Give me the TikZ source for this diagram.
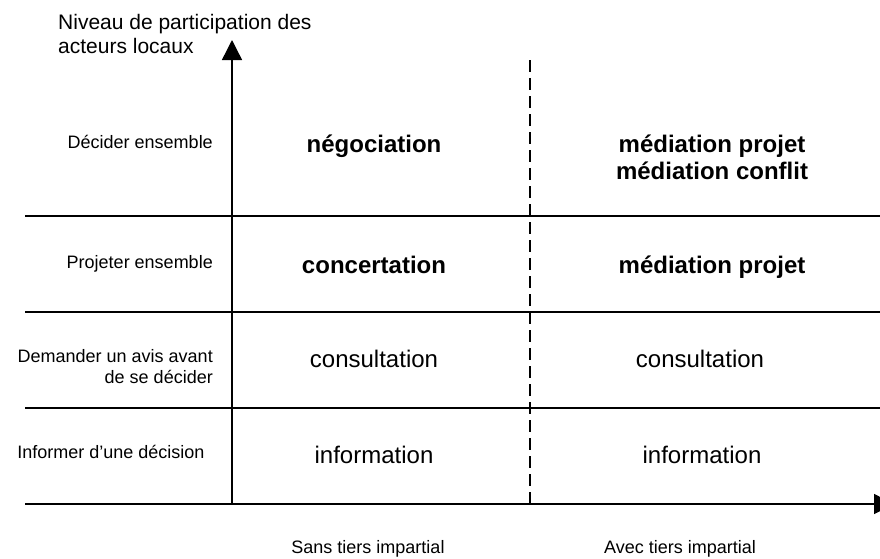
\documentclass[tikz,border=0pt]{standalone}
\usepackage{fontspec}
\setmainfont{Liberation Sans}
\usetikzlibrary{arrows.meta}

\begin{document}
\begin{tikzpicture}[x=1pt,y=-1pt,
    axe/.style={line width=1.4pt,-{Triangle[length=20pt,width=20pt]}},
    ligne/.style={line width=1.1pt},
    niveau/.style={font=\fontsize{18}{21}\selectfont,inner sep=0pt,align=right},
    mode/.style={font=\fontsize{24}{27}\selectfont,inner sep=0pt,align=center},
    modeb/.style={font=\fontsize{24}{27}\selectfont\bfseries,inner sep=0pt,align=center}]
    \useasboundingbox (0,0) rectangle (880,558);

    % axes
    \coordinate (O) at (232,504);
    \coordinate (xmin) at (25,504);
    \coordinate (xmax) at (894,504);
    \coordinate (ymax) at (232,40);
    \draw[axe] (xmin) -- (xmax);
    \draw[axe] (O) -- (ymax);

    % separations between levels
    \foreach \y in {216,312,408}
        \draw[ligne] (25,\y) -- (880,\y);

    % tiers / sans tiers
    \coordinate (dtop) at (530,60);
    \coordinate (dbot) at (530,508);
    \draw[ligne, dash pattern=on 12pt off 6pt] (dtop) -- (dbot);

    \node[anchor=base west, font=\fontsize{21}{24}\selectfont, inner sep=0pt, align=left] (titre) at (58,53) {Niveau de participation des\\acteurs locaux};

    % levels
    \node[niveau, anchor=base east] (decider) at (213,148) {Décider ensemble};
    \node[niveau, anchor=base east] (projeter) at (213,268) {Projeter ensemble};
    \node[niveau, anchor=base east] (demander) at (213,383) {Demander un avis avant\\de se décider};
    \node[niveau, anchor=base] (informer) at (111,458) {Informer d’une décision};

    % sans tiers
    \node[modeb, anchor=base] (nego) at (374,152) {négociation};
    \node[modeb, anchor=base] (conc) at (374,273) {concertation};
    \node[mode, anchor=base] (cons1) at (374,367) {consultation};
    \node[mode, anchor=base] (info1) at (374,463) {information};

    % avec tiers
    \node[modeb, anchor=base] (medi1) at (712,179) {médiation projet\\médiation conflit};
    \node[modeb, anchor=base] (medi2) at (712,273) {médiation projet};
    \node[mode, anchor=base] (cons2) at (700,367) {consultation};
    \node[mode, anchor=base] (info2) at (702,463) {information};

    \node[niveau, anchor=base] (sans) at (368,553) {Sans tiers impartial};
    \node[niveau, anchor=base] (avec) at (680,553) {Avec tiers impartial};
\end{tikzpicture}
\end{document}
